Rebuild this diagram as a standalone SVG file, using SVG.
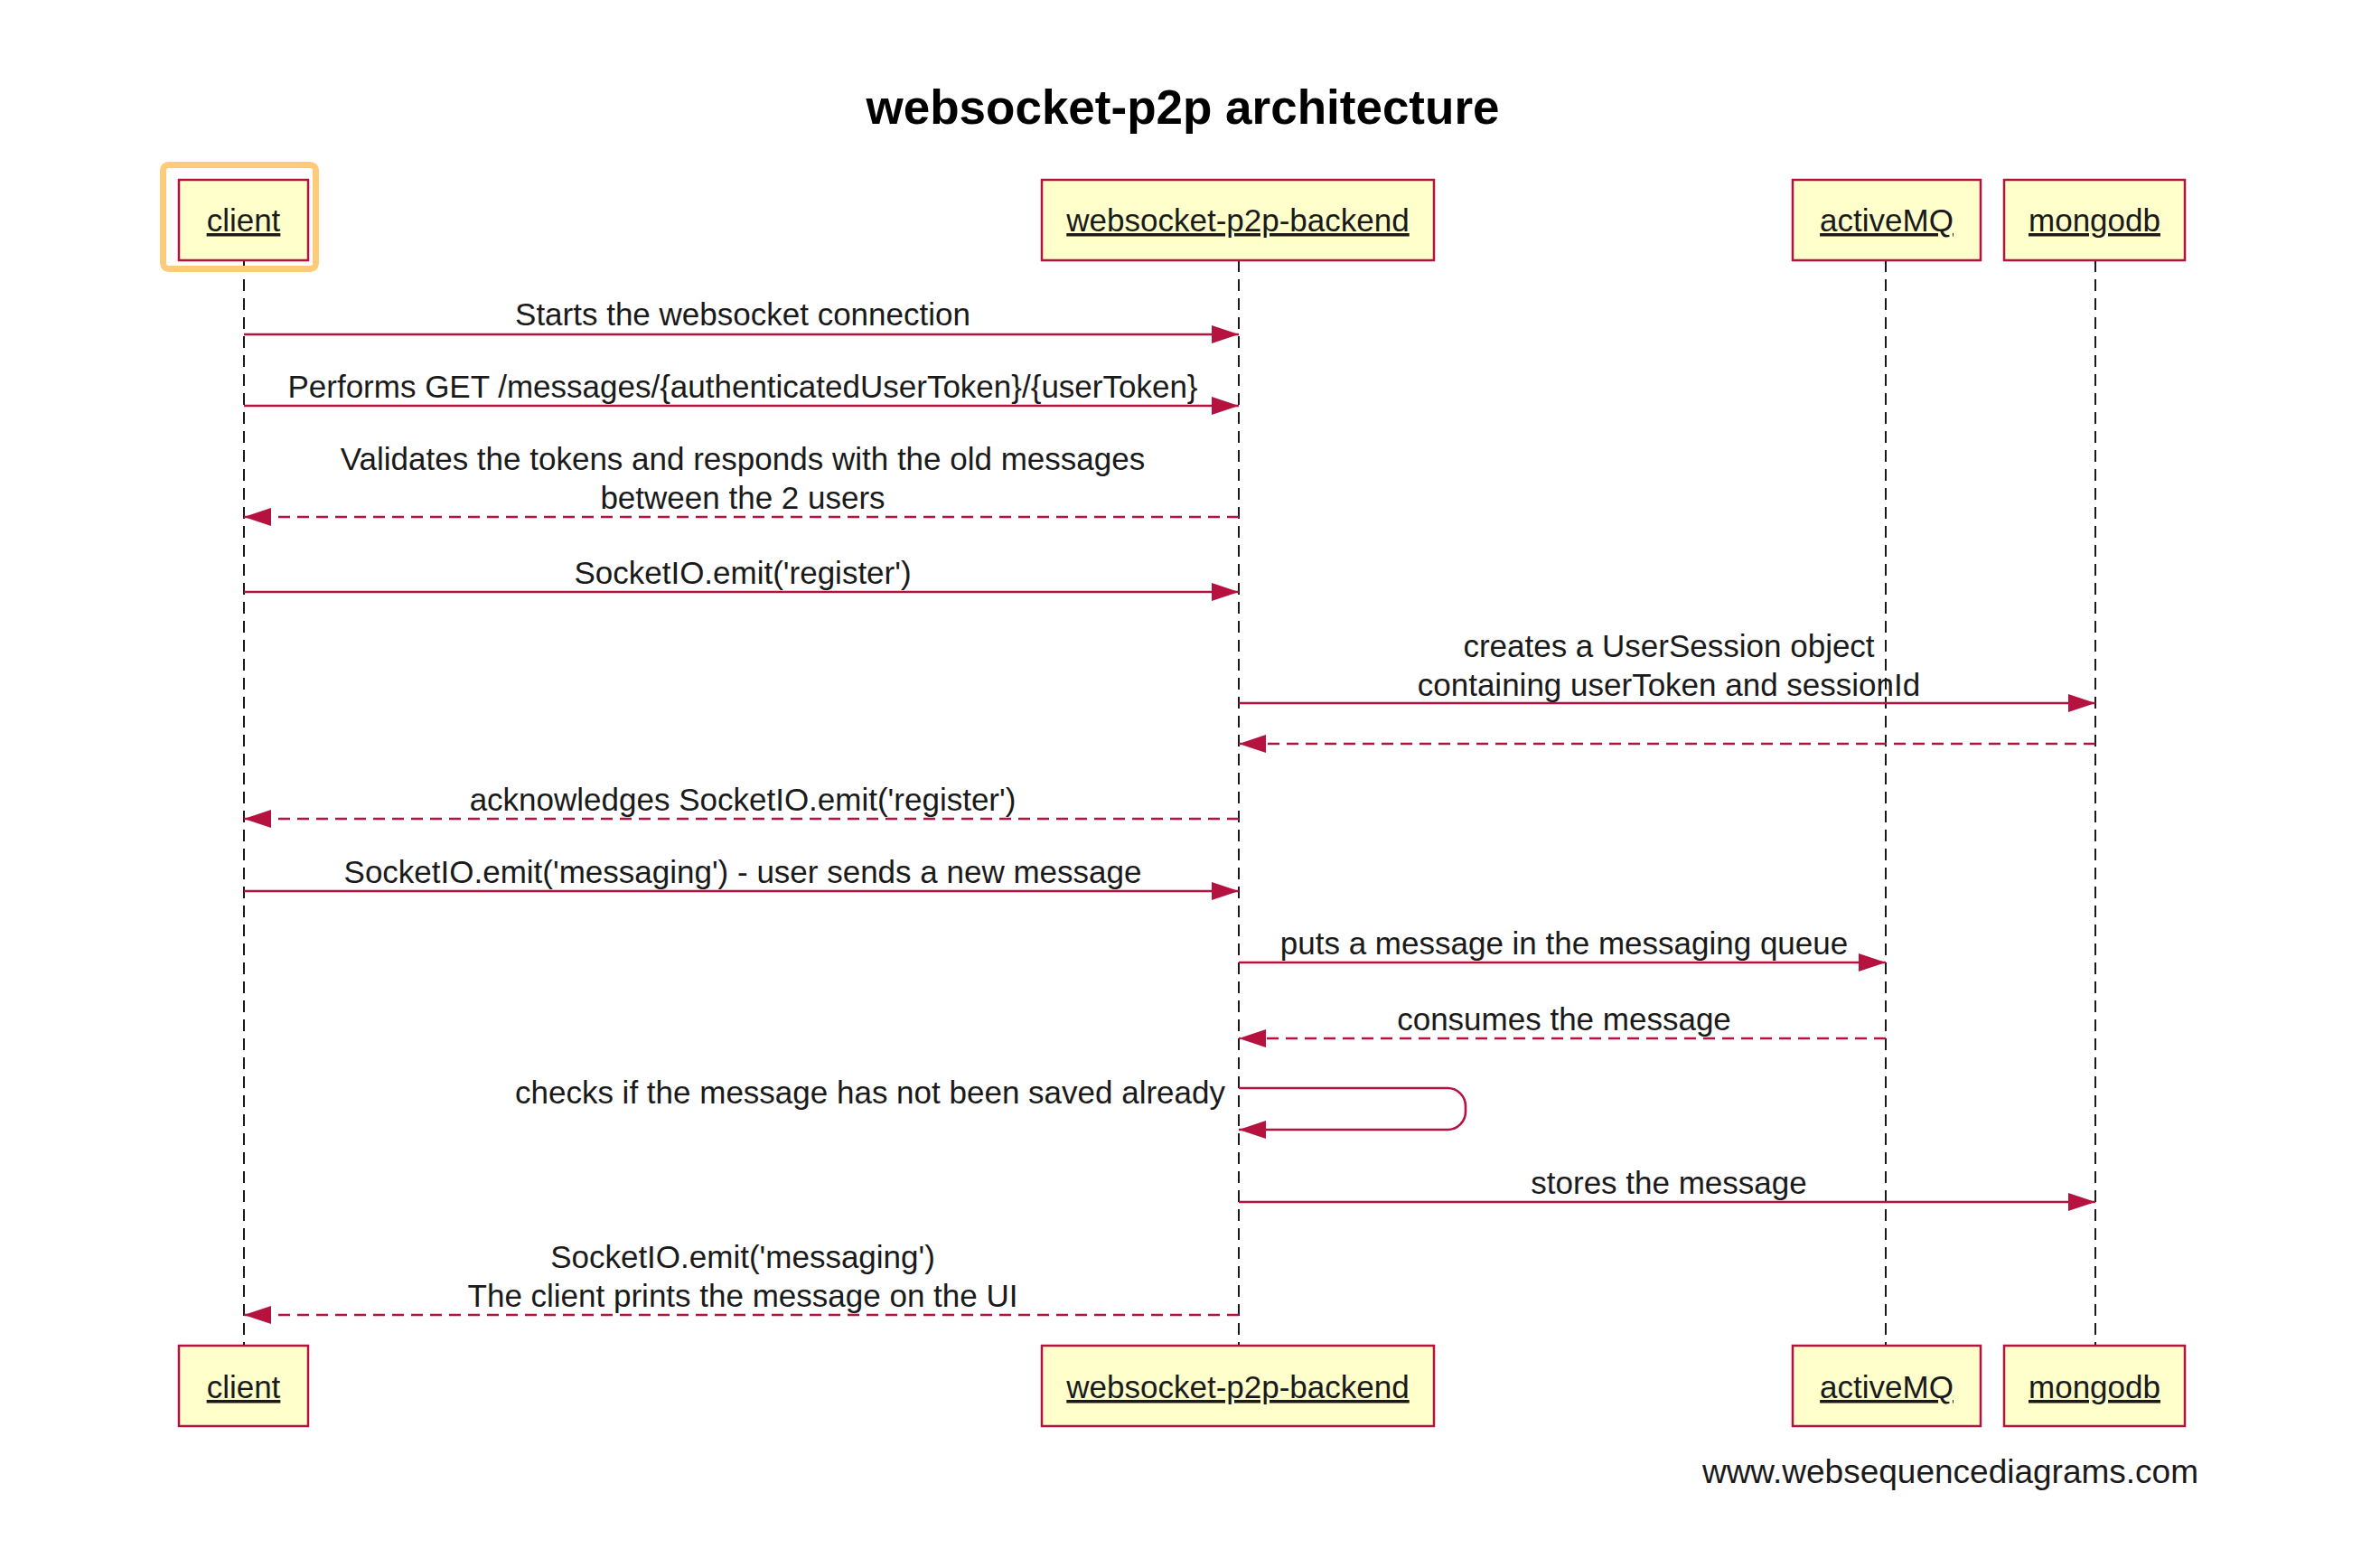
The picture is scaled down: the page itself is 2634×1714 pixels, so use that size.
<svg xmlns="http://www.w3.org/2000/svg" width="2634" height="1714" viewBox="0 0 2634 1714">
<style>
.box{fill:#ffffcc;stroke:#b5123f;stroke-width:2.5}
.plabel{font-family:"Liberation Sans",Arial,sans-serif;font-size:35px;fill:#1a1a1a;text-anchor:middle;text-decoration:underline}
.life{stroke:#1a1a1a;stroke-width:2;stroke-dasharray:13 8;fill:none}
.msg{stroke:#b5123f;stroke-width:2.6;fill:none}
.dash{stroke-dasharray:13 8}
.lbl{font-family:"Liberation Sans",Arial,sans-serif;font-size:35px;fill:#1a1a1a;text-anchor:middle}
.title{font-family:"Liberation Sans",Arial,sans-serif;font-size:53px;font-weight:bold;fill:#000;text-anchor:middle}
</style>
<defs>
<marker id="ah" viewBox="0 0 30 20" refX="30" refY="10" markerWidth="30" markerHeight="20" markerUnits="userSpaceOnUse" orient="auto">
<path d="M0,0 L30,10 L0,20 z" fill="#b5123f" stroke="none"/>
</marker>
</defs>
<rect width="2634" height="1714" fill="#fff"/>
<text class="title" x="1309" y="137">websocket-p2p architecture</text>
<g id="lifelines">
<line class="life" x1="270" y1="288" x2="270" y2="1489"/>
<line class="life" x1="1371" y1="288" x2="1371" y2="1489"/>
<line class="life" x1="2087" y1="288" x2="2087" y2="1489"/>
<line class="life" x1="2319" y1="288" x2="2319" y2="1489"/>
</g>
<g id="client">
<rect x="180.5" y="182.5" width="169" height="115" rx="6" fill="none" stroke="#fdcb7a" stroke-width="7"/>
<rect class="box" x="198" y="199" width="143" height="89"/>
<text class="plabel" x="269.5" y="256">client</text>
<rect class="box" x="198" y="1489" width="143" height="89"/>
<text class="plabel" x="269.5" y="1547">client</text>
</g>
<g id="backend">
<rect class="box" x="1153" y="199" width="434" height="89"/>
<text class="plabel" x="1370" y="256">websocket-p2p-backend</text>
<rect class="box" x="1153" y="1489" width="434" height="89"/>
<text class="plabel" x="1370" y="1547">websocket-p2p-backend</text>
</g>
<g id="activeMQ">
<rect class="box" x="1984" y="199" width="208" height="89"/>
<text class="plabel" x="2088" y="256">activeMQ</text>
<rect class="box" x="1984" y="1489" width="208" height="89"/>
<text class="plabel" x="2088" y="1547">activeMQ</text>
</g>
<g id="mongodb">
<rect class="box" x="2218" y="199" width="200" height="89"/>
<text class="plabel" x="2318" y="256">mongodb</text>
<rect class="box" x="2218" y="1489" width="200" height="89"/>
<text class="plabel" x="2318" y="1547">mongodb</text>
</g>
<g id="connectors">
<line class="msg" x1="270" y1="370" x2="1371" y2="370" marker-end="url(#ah)"/>
<line class="msg" x1="270" y1="449" x2="1371" y2="449" marker-end="url(#ah)"/>
<line class="msg dash" x1="1371" y1="572" x2="270" y2="572" marker-end="url(#ah)"/>
<line class="msg" x1="270" y1="655" x2="1371" y2="655" marker-end="url(#ah)"/>
<line class="msg" x1="1371" y1="778" x2="2319" y2="778" marker-end="url(#ah)"/>
<line class="msg dash" x1="2319" y1="823" x2="1371" y2="823" marker-end="url(#ah)"/>
<line class="msg dash" x1="1371" y1="906" x2="270" y2="906" marker-end="url(#ah)"/>
<line class="msg" x1="270" y1="986" x2="1371" y2="986" marker-end="url(#ah)"/>
<line class="msg" x1="1371" y1="1065" x2="2087" y2="1065" marker-end="url(#ah)"/>
<line class="msg dash" x1="2087" y1="1149" x2="1371" y2="1149" marker-end="url(#ah)"/>
<path class="msg" d="M1371,1204 H1602 A20,20 0 0 1 1622,1224 V1230 A20,20 0 0 1 1602,1250 H1371" marker-end="url(#ah)"/>
<line class="msg" x1="1371" y1="1330" x2="2319" y2="1330" marker-end="url(#ah)"/>
<line class="msg dash" x1="1371" y1="1455" x2="270" y2="1455" marker-end="url(#ah)"/>
</g>
<g id="labels">
<text class="lbl" x="822" y="360">Starts the websocket connection</text>
<text class="lbl" x="822" y="440">Performs GET /messages/{authenticatedUserToken}/{userToken}</text>
<text class="lbl" x="822" y="520">Validates the tokens and responds with the old messages</text>
<text class="lbl" x="822" y="563">between the 2 users</text>
<text class="lbl" x="822" y="646">SocketIO.emit('register')</text>
<text class="lbl" x="1847" y="727">creates a UserSession object</text>
<text class="lbl" x="1847" y="770">containing userToken and sessionId</text>
<text class="lbl" x="822" y="897">acknowledges SocketIO.emit('register')</text>
<text class="lbl" x="822" y="977">SocketIO.emit('messaging') - user sends a new message</text>
<text class="lbl" x="1731" y="1056">puts a message in the messaging queue</text>
<text class="lbl" x="1731" y="1140">consumes the message</text>
<text class="lbl" x="1356" y="1221" style="text-anchor:end">checks if the message has not been saved already</text>
<text class="lbl" x="1847" y="1321">stores the message</text>
<text class="lbl" x="822" y="1403">SocketIO.emit('messaging')</text>
<text class="lbl" x="822" y="1446">The client prints the message on the UI</text>
</g>
<text x="2433" y="1641" style="font-family:'Liberation Sans',Arial,sans-serif;font-size:37px;fill:#1a1a1a;text-anchor:end">www.websequencediagrams.com</text>
</svg>
